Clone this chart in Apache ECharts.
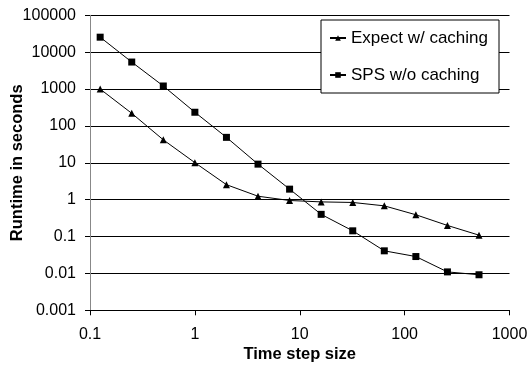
<!DOCTYPE html>
<html>
<head>
<meta charset="utf-8">
<script src="https://cdn.jsdelivr.net/npm/echarts@6/dist/echarts.min.js"></script>
<style>
  html, body { margin: 0; padding: 0; background: #fff; }
  #chart { width: 528px; height: 368px; }
</style>
</head>
<body>
<div id="chart"></div>
<script>
const stepSizes = [0.125, 0.25, 0.5, 1, 2, 4, 8, 16, 32, 64, 128, 256, 512]
const expectCaching = [1000, 220, 42, 10.1, 2.55, 1.24, 0.95, 0.87, 0.84, 0.68, 0.39, 0.2, 0.109]
const spsNoCaching = [25500, 5400, 1210, 235, 49, 9.2, 1.93, 0.4, 0.143, 0.041, 0.0287, 0.011, 0.0092]
const seriesNames = ['Expect w/ caching', 'SPS w/o caching']

const font = 'Liberation Sans, Arial, sans-serif'
const fmt = (v) => String(parseFloat(Number(v).toPrecision(6)))

const chart = echarts.init(document.getElementById('chart'))
chart.setOption({
  animation: false,
  grid: {
    left: 90, right: 18.5, top: 15.3, bottom: 57.7,
    containLabel: false,
    outerBoundsMode: 'none',
  },
  legend: {
    left: 321,
    top: 20,
    orient: 'vertical',
    data: seriesNames,
    backgroundColor: '#fff',
    borderColor: '#000',
    borderWidth: 1,
    borderRadius: 0,
    padding: [8, 11, 8, 8],
    itemGap: 17,
    itemWidth: 16,
    itemHeight: 7,
    textStyle: { fontFamily: font, fontSize: 17, color: '#000', lineHeight: 20 },
  },
  xAxis: {
    type: 'log',
    logBase: 10,
    min: 0.1,
    max: 1000,
    name: 'Time step size',
    nameLocation: 'middle',
    nameGap: 36,
    nameMoveOverlap: false,
    nameTextStyle: { fontFamily: font, fontSize: 16.5, fontWeight: 'bold', color: '#000' },
    axisLine: { lineStyle: { color: '#000', width: 1 } },
    axisTick: { show: true, inside: false, length: 5, lineStyle: { color: '#000' } },
    axisLabel: { fontFamily: font, fontSize: 16, color: '#000', margin: 16, formatter: fmt },
    splitLine: { show: false },
  },
  yAxis: {
    type: 'log',
    logBase: 10,
    min: 0.001,
    max: 100000,
    name: 'Runtime in seconds',
    nameLocation: 'middle',
    nameGap: 64,
    nameMoveOverlap: false,
    nameTextStyle: { fontFamily: font, fontSize: 16.5, fontWeight: 'bold', color: '#000' },
    axisLine: { show: true, lineStyle: { color: '#888', width: 1 } },
    axisTick: { show: true, inside: false, length: 5, lineStyle: { color: '#000' } },
    axisLabel: { fontFamily: font, fontSize: 16, color: '#000', margin: 14, formatter: fmt },
    splitLine: { show: true, lineStyle: { color: '#000', width: 1 } },
  },
  series: [
    {
      name: seriesNames[0],
      type: 'line',
      data: stepSizes.map((x, i) => [x, expectCaching[i]]),
      symbol: 'triangle',
      symbolSize: 7,
      color: '#000',
      lineStyle: { color: '#000', width: 1 },
      itemStyle: { color: '#000' },
    },
    {
      name: seriesNames[1],
      type: 'line',
      data: stepSizes.map((x, i) => [x, spsNoCaching[i]]),
      symbol: 'rect',
      symbolSize: 7,
      color: '#000',
      lineStyle: { color: '#000', width: 1 },
      itemStyle: { color: '#000' },
    },
  ],
})
</script>
</body>
</html>
